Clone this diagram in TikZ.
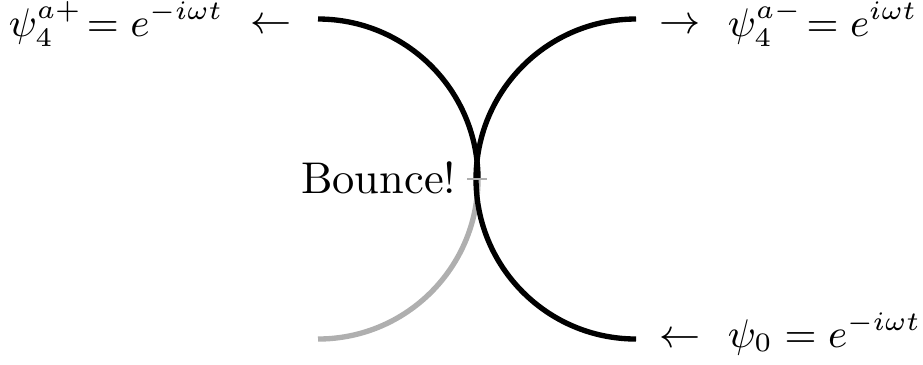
\documentclass[tikz,border=0pt]{standalone}
\usepackage{xcolor}
\usepackage{tikz}
\usetikzlibrary{positioning, calc}
\definecolor{fadegray}{RGB}{175,175,175}
\tikzset{
    wall/.style = {line width=1.2pt, black},
    ghost/.style = {line width=1.2pt, fadegray},
    eqn/.style = {inner sep=0pt, font=\fontsize{9.2}{11}\selectfont},
    marker/.style = {line width=0.3pt, fadegray}
}

\begin{document}
\begin{tikzpicture}[x=0.225pt, y=0.225pt]
\useasboundingbox (0,0) rectangle (923,364);
\coordinate (A) at (318,345);
\coordinate (B) at (478,185);
\coordinate (C) at (636,345);
\coordinate (D) at (636,25);

\draw [wall] (A) arc[start angle=90, end angle=0, radius=160];
\draw [ghost] (B) arc[start angle=0, end angle=-90, radius=160];
\draw [wall] (C) arc[start angle=90, end angle=270, radius=160];
\draw [marker] ($(B)+(-11,0)$) -- ($(B)+(9,0)$);

% incoming and outgoing waves
\node (E1) [eqn, anchor=base east] at ($(A)+(-26,-14)$) {$\leftarrow$};
\node (E) [eqn, anchor=base west] at (8,328) {$\psi_4^{a+}\!= e^{-i\omega t}$};
\node (F1) [eqn, anchor=base west] at ($(C)+(23,-14)$) {$\rightarrow$};
\node (F) [eqn, anchor=base west] at ($(C)+(91,-17)$) {$\psi_4^{a-}\!= e^{i\omega t}$};
\node (G1) [eqn, anchor=base west] at ($(D)+(23,-8)$) {$\leftarrow$};
\node (G) [eqn, anchor=base west] at ($(D)+(91,-8)$) {$\psi_0 = e^{-i\omega t}$};
\node (H) [eqn, font=\normalsize, anchor=base east] at ($(B)+(-21,-14)$) {Bounce!};
\end{tikzpicture}
\end{document}
